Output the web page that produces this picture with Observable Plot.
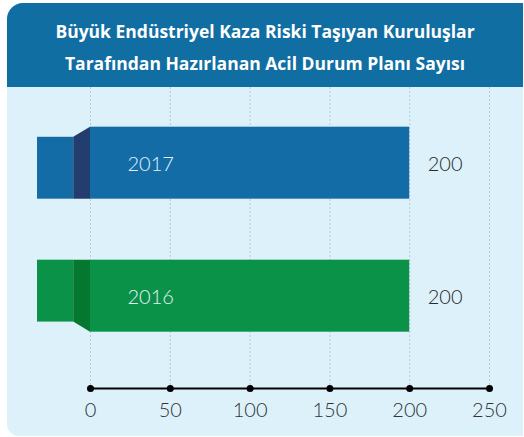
<!DOCTYPE html>
<html><head><meta charset="utf-8">
<script src="https://cdn.jsdelivr.net/npm/d3@7"></script>
<script src="https://cdn.jsdelivr.net/npm/@observablehq/plot@0.6"></script>
<style>
html,body{margin:0;padding:0;background:#fff;}
#card{position:absolute;left:7px;top:3px;width:516px;height:433px;background:#ddf1fb;border-radius:16px 0 0 12px;overflow:hidden;}
#head{box-sizing:border-box;height:84px;padding-top:4px;background:#106ea3;color:#fff;font-family:"Open Sans",Lato,sans-serif;font-weight:700;font-size:17.5px;text-align:center;display:flex;flex-direction:column;justify-content:center;line-height:32px;}
#chart svg{display:block;}
</style></head><body>
<div id="card"><div id="head"></div><div id="chart"></div></div>
<script>
const titleLines = ["Büyük Endüstriyel Kaza Riski Taşıyan Kuruluşlar", "Tarafından Hazırlanan Acil Durum Planı Sayısı"];
const categories = ["2017", "2016"];
const values = [200, 200];
const xTicks = [0, 50, 100, 150, 200, 250];
const barColors = ["#136ca6", "#0a9249"];
const darkColors = ["#233e6e", "#05772f"];

// layout constants (in scale units)
const H = 0.2707;      // half bar thickness
const INSET = 0.076;   // tab inset
const TAB_LEFT = -33.2, TAB_RIGHT = -10.5;
const AXIS_Y = 1.694;

document.getElementById("head").innerHTML = titleLines.map(t => `<div>${t}</div>`).join("");

const rows = categories.map((c, i) => ({year: c, value: values[i], i, slant: i === 0 ? "top" : "bottom", color: barColors[i], dark: darkColors[i]}));
const darkPts = rows.flatMap(d => [
  {year: d.year, dark: d.dark, x: TAB_RIGHT,
   y1: d.i - H + (d.slant === "top" ? INSET : 0), y2: d.i + H - (d.slant === "bottom" ? INSET : 0)},
  {year: d.year, dark: d.dark, x: 0, y1: d.i - H, y2: d.i + H}
]);

const chart = Plot.plot({
  width: 516, height: 349,
  marginLeft: 83, marginRight: 34, marginTop: 0, marginBottom: 48,
  style: {background: "transparent", fontFamily: "Lato, 'Open Sans', sans-serif"},
  x: {domain: [0, 250], axis: null},
  y: {domain: [-0.569, AXIS_Y], reverse: true, axis: null},
  color: {type: "identity"},
  marks: [
    Plot.ruleX(xTicks, {x: d => d, stroke: "#bcc6cf", strokeDasharray: "2,2"}),
    Plot.rect(rows, {x1: () => TAB_LEFT, x2: () => TAB_RIGHT,
      y1: d => d.i - H + (d.slant === "top" ? INSET : 0),
      y2: d => d.i + H - (d.slant === "bottom" ? INSET : 0), fill: "color"}),
    Plot.areaY(darkPts, {x: "x", y1: "y1", y2: "y2", z: "year", fill: "dark", curve: "linear"}),
    Plot.rect(rows, {x1: () => 0, x2: "value", y1: d => d.i - H, y2: d => d.i + H, fill: "color"}),
    Plot.text(rows, {x: () => 0, y: "i", text: "year", textAnchor: "start", dx: 37, dy: 1.5, fill: "#e4f0f8", fontSize: 20, fontWeight: 300}),
    Plot.text(rows, {x: "value", y: "i", text: d => String(d.value), textAnchor: "start", dx: 18, dy: 1.5, fill: "#2a2a2a", fontSize: 20, fontWeight: 300}),
    Plot.ruleY([AXIS_Y], {y: d => d, x1: () => xTicks[0], x2: () => xTicks[xTicks.length - 1], stroke: "#000", strokeWidth: 2}),
    Plot.dot(xTicks, {x: d => d, y: () => AXIS_Y, r: 3.5, fill: "#000"}),
    Plot.text(xTicks, {x: d => d, y: () => AXIS_Y, dy: 22, text: d => String(d), fill: "#333", fontSize: 20, fontWeight: 300})
  ]
});
document.getElementById("chart").appendChild(chart);
</script>
</body></html>
